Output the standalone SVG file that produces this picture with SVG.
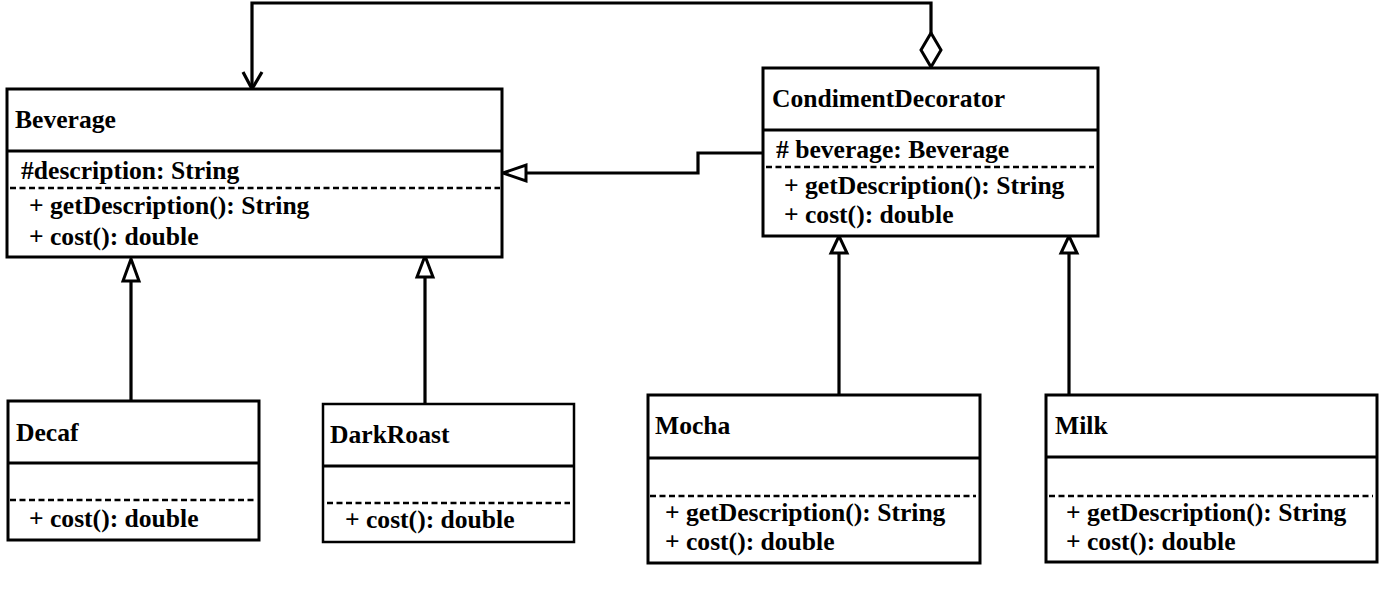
<svg xmlns="http://www.w3.org/2000/svg" width="1385" height="602" viewBox="0 0 1385 602">
<style>
  .box { fill: #fff; stroke: #000; stroke-width: 3; }
  .div { stroke: #000; stroke-width: 3; }
  .dash { stroke: #000; stroke-width: 2.5; stroke-dasharray: 6 3.5; }
  .t { font-family: "Liberation Serif", "Times New Roman", serif; font-weight: bold; font-size: 25.6px; fill: #000; }
  .conn { fill: none; stroke: #000; stroke-width: 3.2; }
  .head { fill: #fff; stroke: #000; stroke-width: 3; stroke-linejoin: miter; }
</style>
<rect width="1385" height="602" fill="#fff"/>

<g id="connectors">
  <path class="conn" d="M252 88 V3 H931 V33"/>
  <polyline class="conn" points="243,72 252,89 262,72"/>
  <polygon class="head" points="931,33 941,50 931,67 921,50"/>
  <path class="conn" d="M763 153 H698 V173 H526"/>
  <polygon class="head" points="503,173 526,165 526,181"/>
  <line class="conn" x1="131" y1="401" x2="131" y2="281"/>
  <polygon class="head" points="131,259 123,281 139,281"/>
  <line class="conn" x1="425" y1="404" x2="425" y2="277"/>
  <polygon class="head" points="425,256 417,277 433,277"/>
  <line class="conn" x1="839" y1="395" x2="839" y2="253"/>
  <polygon class="head" points="839,236 831,253 847,253"/>
  <line class="conn" x1="1069" y1="395" x2="1069" y2="253"/>
  <polygon class="head" points="1069,236 1061,253 1077,253"/>
</g>

<g id="beverage">
  <rect class="box" x="7" y="89" width="495" height="168"/>
  <line class="div" x1="7" y1="151" x2="502" y2="151"/>
  <line class="dash" x1="10" y1="188" x2="500" y2="188"/>
  <text class="t" x="15" y="128">Beverage</text>
  <text class="t" x="21" y="179">#description: String</text>
  <text class="t" x="29" y="214">+ getDescription(): String</text>
  <text class="t" x="29" y="245">+ cost(): double</text>
</g>

<g id="condimentdecorator">
  <rect class="box" x="763" y="68" width="335" height="168"/>
  <line class="div" x1="763" y1="130" x2="1098" y2="130"/>
  <line class="dash" x1="766" y1="167" x2="1094" y2="167"/>
  <text class="t" x="772" y="107">CondimentDecorator</text>
  <text class="t" x="776" y="158"># beverage: Beverage</text>
  <text class="t" x="784" y="194">+ getDescription(): String</text>
  <text class="t" x="784" y="223">+ cost(): double</text>
</g>

<g id="decaf">
  <rect class="box" x="8" y="401" width="251" height="139"/>
  <line class="div" x1="8" y1="463" x2="259" y2="463"/>
  <line class="dash" x1="10" y1="500" x2="255" y2="500"/>
  <text class="t" x="16" y="441">Decaf</text>
  <text class="t" x="29" y="527">+ cost(): double</text>
</g>

<g id="darkroast">
  <rect class="box" x="323" y="404" width="251" height="138" style="stroke-width:2.5"/>
  <line class="div" x1="323" y1="466" x2="574" y2="466"/>
  <line class="dash" x1="327" y1="503" x2="570" y2="503"/>
  <text class="t" x="330" y="443">DarkRoast</text>
  <text class="t" x="345" y="528">+ cost(): double</text>
</g>

<g id="mocha">
  <rect class="box" x="648" y="395" width="332" height="168"/>
  <line class="div" x1="648" y1="458" x2="980" y2="458"/>
  <line class="dash" x1="650" y1="496" x2="976" y2="496"/>
  <text class="t" x="655" y="434">Mocha</text>
  <text class="t" x="665" y="521">+ getDescription(): String</text>
  <text class="t" x="665" y="550">+ cost(): double</text>
</g>

<g id="milk">
  <rect class="box" x="1046" y="395" width="331" height="167"/>
  <line class="div" x1="1046" y1="457" x2="1377" y2="457"/>
  <line class="dash" x1="1049" y1="496" x2="1373" y2="496"/>
  <text class="t" x="1055" y="434">Milk</text>
  <text class="t" x="1066" y="521">+ getDescription(): String</text>
  <text class="t" x="1066" y="550">+ cost(): double</text>
</g>
</svg>
